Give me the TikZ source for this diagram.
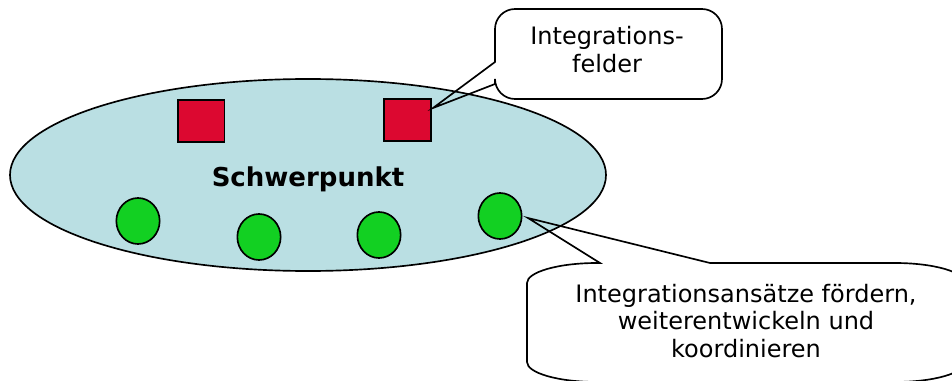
\documentclass[tikz,border=0pt]{standalone}
\usepackage{fontspec}
\setmainfont{DejaVu Sans}
\usetikzlibrary{shapes.geometric}
\definecolor{corefill}{HTML}{BADFE3}
\definecolor{fieldred}{HTML}{DC0830}
\definecolor{approachgreen}{HTML}{12D022}
\begin{document}
\begin{tikzpicture}[x=0.75pt,y=-0.75pt,line width=1.25pt,
  corearea/.style={ellipse,draw=black,fill=corefill,minimum width=447pt,minimum height=144pt,inner sep=0pt},
  fieldbox/.style={rectangle,draw=black,fill=fieldred,minimum width=35pt,minimum height=31.5pt,inner sep=0pt},
  approachdot/.style={ellipse,draw=black,fill=approachgreen,minimum width=32.5pt,minimum height=34.5pt,inner sep=0pt},
  calloutline/.style={draw=black,line width=1.25pt,line join=miter},
  callouttext/.style={font=\fontsize{18}{21}\selectfont,align=center,inner sep=0pt}]
\useasboundingbox (0,0) rectangle (952,381);
\clip (0,0) rectangle (952,381);

% central area with its fields and approaches
\node[corearea] (core) at (308,175) {};
\node[font=\fontsize{19.5}{23}\selectfont\bfseries,anchor=base,inner sep=0pt] (title) at (308,186) {Schwerpunkt};
\node[fieldbox] (sqA) at (201,121) {};
\node[fieldbox] (sqB) at (407.5,120) {};
\node[approachdot] (dotA) at (138,221) {};
\node[approachdot] (dotB) at (259,237) {};
\node[approachdot] (dotC) at (379,235) {};
\node[approachdot] (dotD) at (500,216) {};

% callout tips
\coordinate (tipA) at (433,108);
\coordinate (tipB) at (528,218);

% upper callout
\draw[calloutline] (495,29) .. controls (495,18) and (504,9) .. (515,9) -- (702,9)
  .. controls (713,9) and (722,18) .. (722,29) -- (722,79)
  .. controls (722,90) and (713,99) .. (702,99) -- (515,99)
  .. controls (504,99) and (495,90) .. (495,79) -- (495,84) -- (tipA) -- (495,62) -- cycle;
\node[callouttext,anchor=base] (labA) at (607,73) {Integrations-\\felder};

% lower callout
\draw[calloutline] (527,283) .. controls (527,272) and (558.3,263) .. (597,263) -- (600,263) -- (tipB) -- (710,263) -- (895,263)
  .. controls (933.7,263) and (965,272) .. (965,283) -- (965,362)
  .. controls (965,373) and (933.7,382) .. (895,382) -- (597,382)
  .. controls (558.3,382) and (527,373) .. (527,362) -- cycle;
\node[callouttext,anchor=base,font=\fontsize{18}{20.6}\selectfont] (labB) at (746,357) {Integrationsansätze fördern,\\weiterentwickeln und\\koordinieren};
\end{tikzpicture}
\end{document}
